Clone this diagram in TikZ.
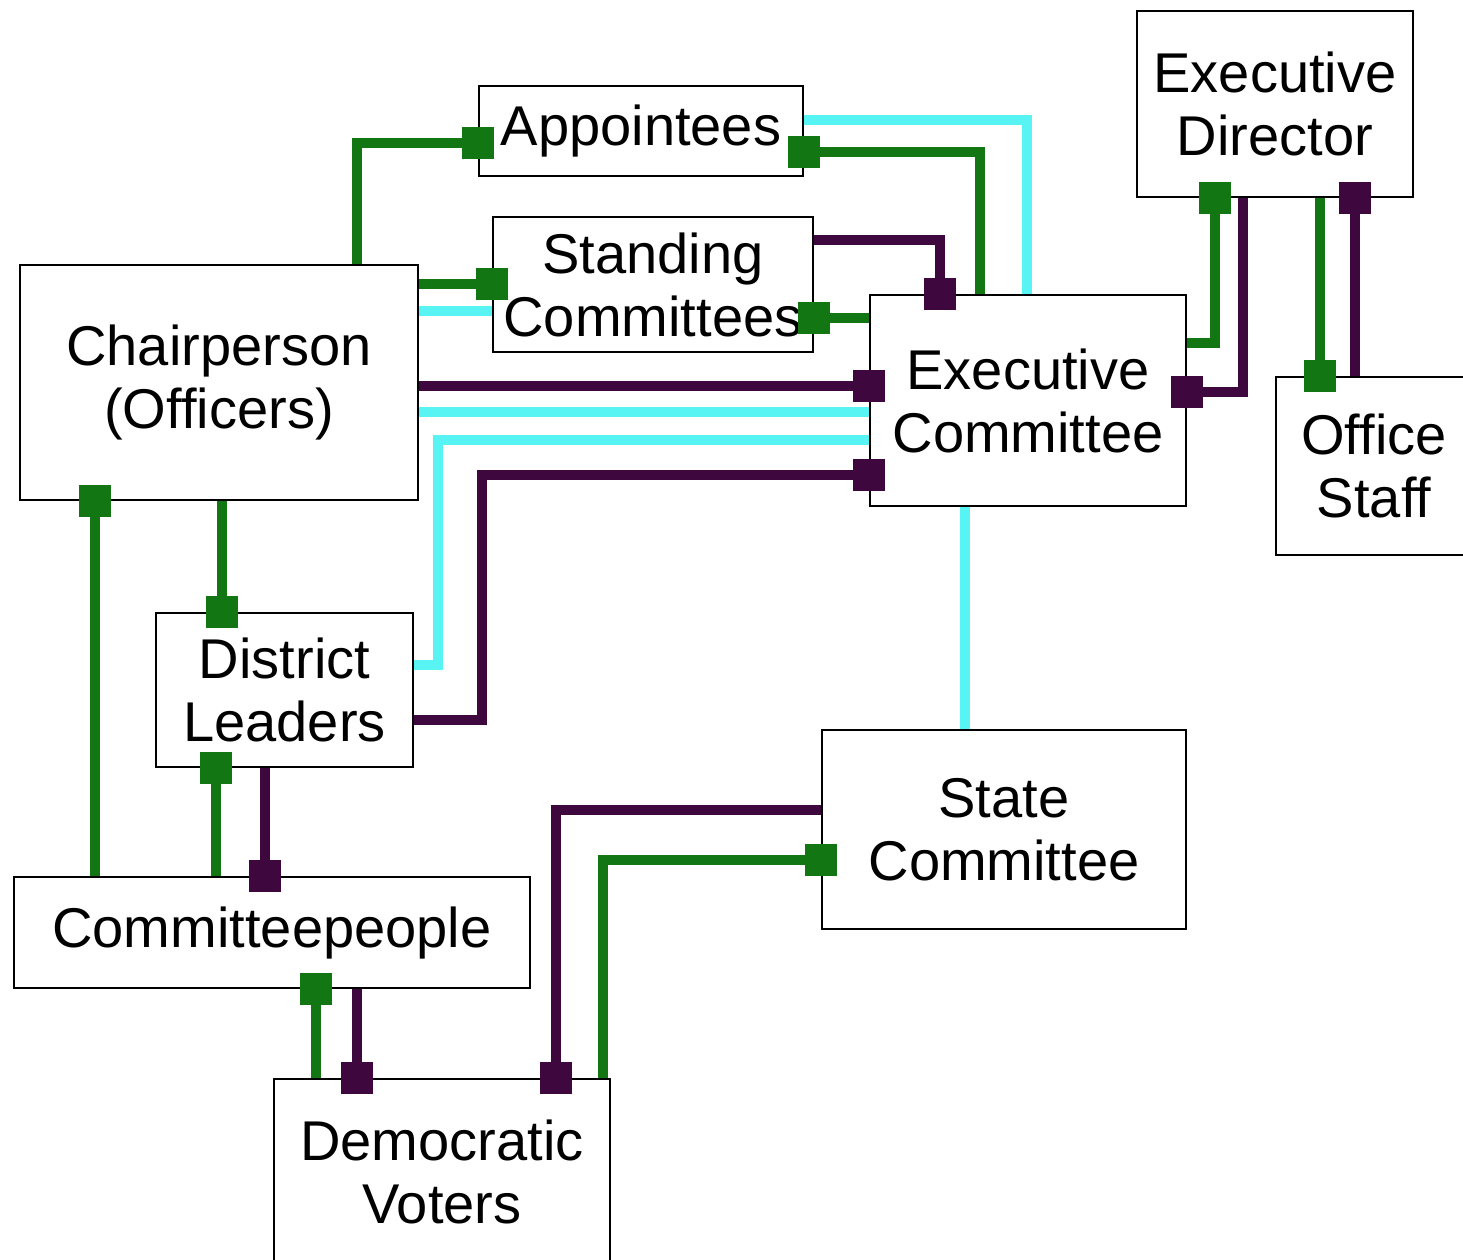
\documentclass[tikz,border=0pt]{standalone}
\usepackage{fontspec}
\setmainfont{Liberation Sans}
\usetikzlibrary{arrows.meta}
\definecolor{grnline}{RGB}{18,118,18}
\definecolor{prpline}{RGB}{62,8,62}
\definecolor{cynline}{RGB}{88,244,244}
\tikzset{
  sq/.tip={Square[length=0.64cm,width=0.64cm]},
  box/.style={draw,line width=1.2pt,fill=white,align=center,inner sep=0pt,
    font=\fontsize{31.9}{35.9}\selectfont},
  link/.style={line width=0.2cm},
  grn/.style={link,grnline},
  prp/.style={link,prpline},
  cyn/.style={link,cynline},
  sqend/.style={-sq,shorten >=-0.32cm},
  sqstart/.style={sq-,shorten <=-0.32cm}
}
\begin{document}
\begin{tikzpicture}[x=0.02cm,y=-0.02cm]
\useasboundingbox (0,0) rectangle (1463,1259);
\node[box,minimum width=6.48cm,minimum height=1.8cm] (app) at (641,131) {Appointees};
\node[box,minimum width=6.4cm,minimum height=2.7cm] (stand) at (653,284.5) {Standing\\Committees};
\node[box,minimum width=7.96cm,minimum height=4.7cm] (chair) at (219,382.5) {Chairperson\\(Officers)};
\node[box,minimum width=6.32cm,minimum height=4.22cm] (exec) at (1028,400.5) {Executive\\Committee};
\node[box,minimum width=5.52cm,minimum height=3.72cm] (dir) at (1275,104) {Executive\\Director};
\node[box,minimum width=3.92cm,minimum height=3.56cm] (staff) at (1374,466) {Office\\Staff};
\node[box,minimum width=5.14cm,minimum height=3.08cm] (dist) at (284.5,690) {District\\Leaders};
\node[box,minimum width=10.32cm,minimum height=2.22cm] (cpeople) at (272,932.5) {Committeepeople};
\node[box,minimum width=6.72cm,minimum height=3.72cm] (voters) at (442,1172) {Democratic\\Voters};
\node[box,minimum width=7.28cm,minimum height=3.98cm] (state) at (1004,829.5) {State\\Committee};

\draw[cyn] (app.east |- 0,120) -| (1027,0 |- exec.north);
\draw[cyn] (chair.east |- 0,311) -- (stand.west |- 0,311);
\draw[cyn] (chair.east |- 0,412) -- (exec.west |- 0,412);
\draw[cyn] (dist.east |- 0,665) -| (438,440) -- (exec.west |- 0,440);
\draw[cyn] (965,0 |- exec.south) -- (965,0 |- state.north);

\draw[grn][sqend] (357,0 |- chair.north) |- (app.west |- 0,143);
\draw[grn][sqend] (chair.east |- 0,284) -- (stand.west |- 0,284);
\draw[grn][sqstart] (app.east |- 0,152) -| (980,0 |- exec.north);
\draw[grn][sqstart] (stand.east |- 0,318) -- (exec.west |- 0,318);
\draw[grn][sqend] (exec.east |- 0,343) -| (1215,0 |- dir.south);
\draw[grn][sqend] (1320,0 |- dir.south) -- (1320,0 |- staff.north);
\draw[grn][sqend] (222,0 |- chair.south) -- (222,0 |- dist.north);
\draw[grn][sqstart] (95,0 |- chair.south) -- (95,0 |- cpeople.north);
\draw[grn][sqstart] (216,0 |- dist.south) -- (216,0 |- cpeople.north);
\draw[grn][sqstart] (316,0 |- cpeople.south) -- (316,0 |- voters.north);
\draw[grn][sqstart] (state.west |- 0,860) -| (603,0 |- voters.north);

\draw[prp][sqend] (stand.east |- 0,240) -| (940,0 |- exec.north);
\draw[prp][sqend] (chair.east |- 0,386) -- (exec.west |- 0,386);
\draw[prp][sqend] (dist.east |- 0,720) -| (482,475) -- (exec.west |- 0,475);
\draw[prp][sqstart] (exec.east |- 0,392) -| (1243,0 |- dir.south);
\draw[prp][sqstart] (1355,0 |- dir.south) -- (1355,0 |- staff.north);
\draw[prp][sqend] (265,0 |- dist.south) -- (265,0 |- cpeople.north);
\draw[prp][sqend] (357,0 |- cpeople.south) -- (357,0 |- voters.north);
\draw[prp][sqend] (state.west |- 0,810) -| (556,0 |- voters.north);
\end{tikzpicture}
\end{document}
